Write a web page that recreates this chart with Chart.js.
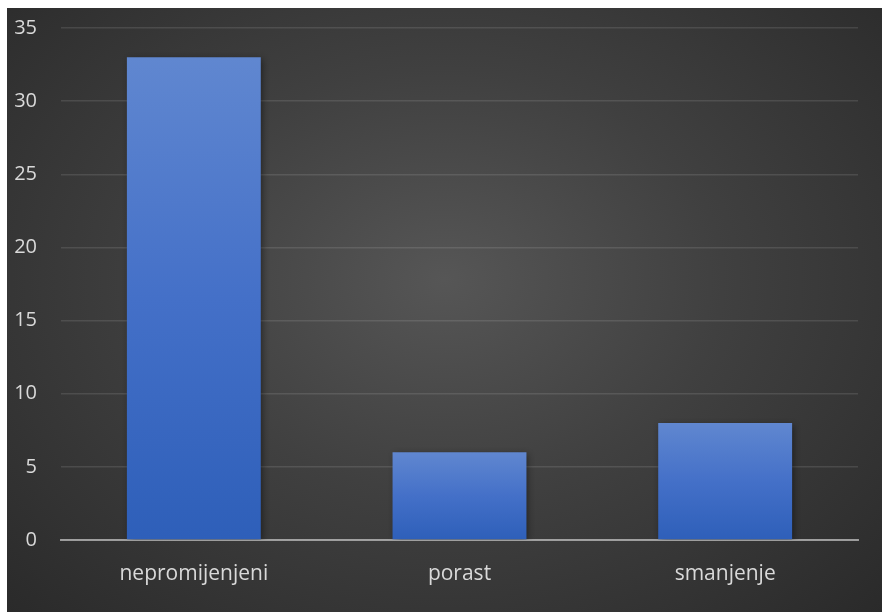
<!DOCTYPE html>
<html>
<head>
<meta charset="UTF-8">
<title>Chart</title>
<script src="https://cdn.jsdelivr.net/npm/chart.js"></script>
<style>
    html, body { margin: 0; padding: 0; background: #fff; }
    #wrap {
        position: absolute; left: 7px; top: 8px; width: 875px; height: 604px;
        background: radial-gradient(ellipse at 50% 45%, #565656 0%, #404040 45%, #2a2a2a 100%);
    }
</style>
</head>
<body>
<div id="wrap"><canvas id="chart" width="875" height="604"></canvas></div>
<script>
    // podaci
    const categories = ['nepromijenjeni', 'porast', 'smanjenje'];
    const values = [33, 6, 8];
    const yMax = 35;
    const yStep = 5;

    // gradijent za svaki stupac
    function barGradient(context) {
        const chart = context.chart;
        const y = chart.scales.y;
        if (!y || context.raw === undefined) return '#4472c4';
        const top = y.getPixelForValue(context.raw);
        const bottom = y.getPixelForValue(0);
        if (!isFinite(top) || !isFinite(bottom) || top === bottom) return '#4472c4';
        const g = chart.ctx.createLinearGradient(0, top, 0, bottom);
        g.addColorStop(0, '#6087d0');
        g.addColorStop(0.5, '#4470c8');
        g.addColorStop(1, '#2e5fb9');
        return g;
    }

    const shadowPlugin = {
        id: 'barShadow',
        beforeDatasetsDraw(chart) {
            const ctx = chart.ctx;
            ctx.save();
            ctx.shadowColor = 'rgba(0,0,0,0.45)';
            ctx.shadowBlur = 7;
            ctx.shadowOffsetX = 2;
            ctx.shadowOffsetY = 2;
        },
        afterDatasetsDraw(chart) {
            chart.ctx.restore();
        }
    };

    new Chart(document.getElementById('chart').getContext('2d'), {
        type: 'bar',
        data: {
            labels: categories,
            datasets: [{
                data: values,
                backgroundColor: barGradient,
                borderWidth: 0,
                categoryPercentage: 0.504,
                barPercentage: 1
            }]
        },
        options: {
            responsive: false,
            animation: false,
            layout: { padding: { top: 20, right: 24, left: 0, bottom: 0 } },
            plugins: {
                legend: { display: false },
                tooltip: { enabled: false }
            },
            scales: {
                x: {
                    z: 1,
                    grid: { display: false, drawTicks: false },
                    border: { display: true, color: 'rgba(190,190,190,0.75)', width: 2 },
                    ticks: {
                        color: '#d9d9d9',
                        padding: 21,
                        font: { family: 'Open Sans', size: 21 }
                    },
                    afterFit(scale) { scale.height = 72; }
                },
                y: {
                    min: 0,
                    max: yMax,
                    grid: { color: 'rgba(255,255,255,0.11)', lineWidth: 1.5, drawTicks: false },
                    border: { display: false },
                    ticks: {
                        stepSize: yStep,
                        color: '#d9d9d9',
                        padding: 24,
                        font: { family: 'Open Sans', size: 20 }
                    },
                    afterFit(scale) {
                        scale.width = 54;
                        scale.paddingTop = 0;
                        scale.paddingBottom = 0;
                    }
                }
            }
        },
        plugins: [shadowPlugin]
    });
</script>
</body>
</html>
